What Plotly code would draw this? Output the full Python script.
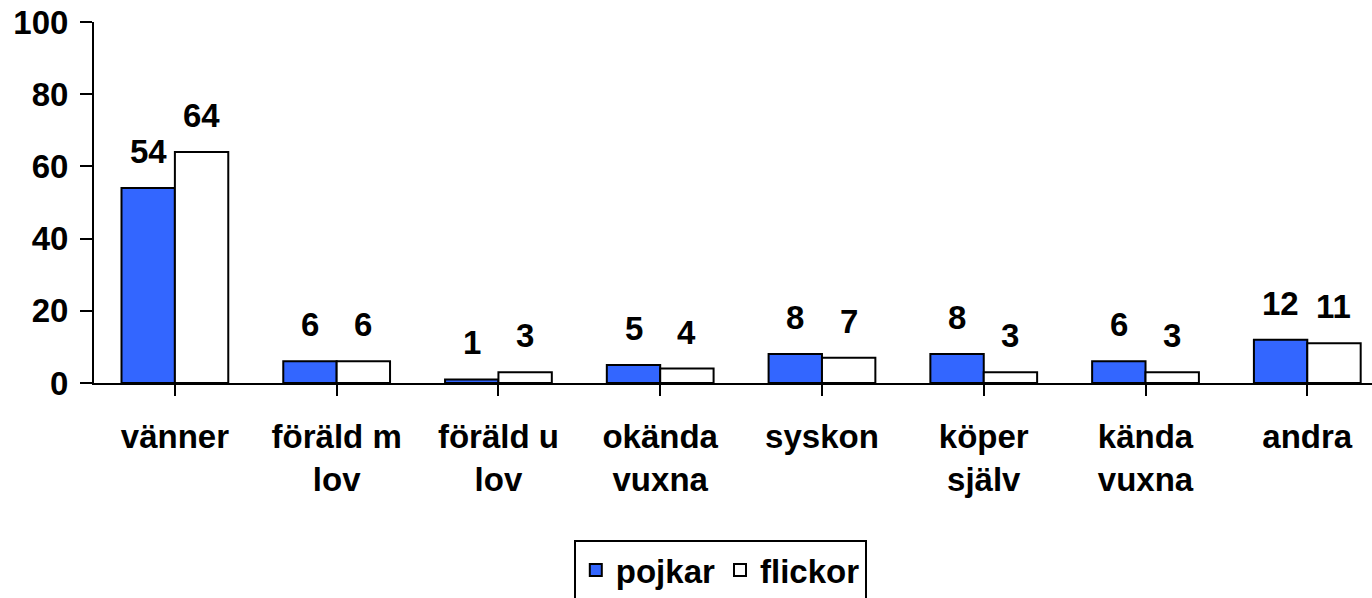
import plotly.graph_objects as go

categories = ["vänner", "föräld m<br>lov", "föräld u<br>lov", "okända<br>vuxna",
              "syskon", "köper<br>själv", "kända<br>vuxna", "andra"]
pojkar = [54, 6, 1, 5, 8, 8, 6, 12]
flickor = [64, 6, 3, 4, 7, 3, 3, 11]
series_names = ["pojkar", "flickor"]
y_ticks = [0, 20, 40, 60, 80, 100]

FONT = "Liberation Sans, Arial, sans-serif"
fs = 33
idx = list(range(len(categories)))

fig = go.Figure()
fig.add_trace(go.Bar(x=idx, y=pojkar, name=series_names[0],
                     marker=dict(color="#3366FF", line=dict(color="black", width=2))))
fig.add_trace(go.Bar(x=idx, y=flickor, name=series_names[1],
                     marker=dict(color="white", line=dict(color="black", width=2))))

bargap = 0.34
half = (1 - bargap) / 4
annotations = []
for i in idx:
    for vals, off in ((pojkar, -half), (flickor, half)):
        annotations.append(dict(x=i + off, y=vals[i], xref="x", yref="y",
                                text=str(vals[i]), showarrow=False,
                                yanchor="bottom", yshift=16,
                                font=dict(family=FONT, size=fs, color="black", weight="bold")))

fig.update_layout(
    width=1372, height=598,
    margin=dict(l=94, r=0, t=22, b=215, pad=0, autoexpand=False),
    paper_bgcolor="white", plot_bgcolor="white",
    barmode="group", bargap=bargap, bargroupgap=0,
    font=dict(family=FONT, size=fs, color="black", weight="bold"),
    annotations=annotations,
    showlegend=True,
    legend=dict(orientation="h", xref="container", yref="container",
                x=0.525, xanchor="center", y=0.097, yanchor="top",
                bordercolor="black", borderwidth=2, bgcolor="white",
                font=dict(family=FONT, size=fs, color="black", weight="bold"),
                itemsizing="constant"),
)
fig.update_xaxes(
    tickmode="array", tickvals=idx, ticktext=categories,
    range=[-0.5, 7.4], tickson="boundaries", automargin=False,
    ticks="outside", ticklen=11, tickwidth=2, tickcolor="black",
    showline=True, linecolor="black", linewidth=2,
    showgrid=False, zeroline=False, ticklabelstandoff=12,
    ticklabeloverflow="allow",
    tickfont=dict(family=FONT, size=fs, color="black", weight="bold"),
)
fig.update_yaxes(
    range=[0, 100], tickmode="array", tickvals=y_ticks, automargin=False,
    ticks="outside", ticklen=12, tickwidth=2, tickcolor="black",
    showline=True, linecolor="black", linewidth=2,
    showgrid=False, zeroline=False, ticklabelstandoff=5,
    ticklabeloverflow="allow",
    tickfont=dict(family=FONT, size=fs, color="black", weight="bold"),
)
# remove the browser's default 8px body margin so the figure fills the window
fig.write_html("out.html", config={"displayModeBar": False},
               post_script="document.body.style.margin='0';")
